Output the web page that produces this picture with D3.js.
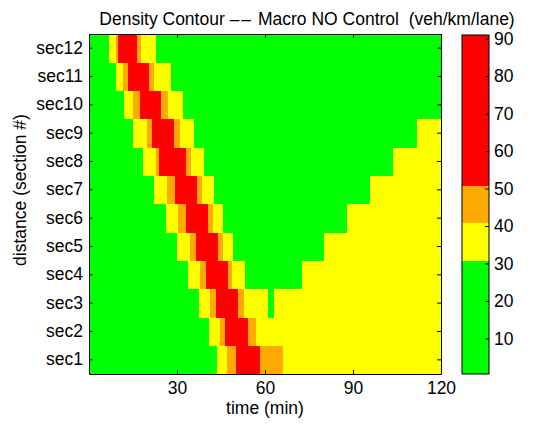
<!DOCTYPE html>
<html>
<head>
<meta charset="utf-8">
<script src="https://cdn.jsdelivr.net/npm/d3@7"></script>
<style>
  html, body { margin: 0; padding: 0; background: #ffffff; }
  svg { display: block; }
  text { font-family: "Liberation Sans", Arial, Helvetica, sans-serif; fill: #000; }
</style>
</head>
<body>
<svg id="chart" width="540" height="425"></svg>
<script>
// Road sections, bottom (sec1) to top (sec12)
const sections = ["sec1", "sec2", "sec3", "sec4", "sec5", "sec6",
                  "sec7", "sec8", "sec9", "sec10", "sec11", "sec12"];

// Time boundaries (min) of constant-density stretches, one list per section
const timeBreaks = [
  [0, 43.7, 47.2, 50.1, 58.3, 66.0, 120],
  [0, 41.0, 44.7, 46.4, 54.3, 56.9, 120],
  [0, 37.5, 41.3, 43.2, 50.9, 52.8, 60.9, 63.2, 120],
  [0, 33.9, 37.8, 39.9, 47.5, 48.9, 53.2, 72.5, 120],
  [0, 29.9, 34.4, 36.4, 44.1, 45.6, 49.0, 80.1, 120],
  [0, 26.3, 30.4, 33.0, 40.7, 42.2, 45.8, 88.1, 120],
  [0, 22.2, 26.7, 29.3, 36.9, 38.5, 42.6, 95.9, 120],
  [0, 18.5, 22.8, 23.9, 33.0, 34.8, 39.3, 103.7, 120],
  [0, 15.1, 19.7, 21.4, 29.1, 31.0, 35.8, 111.8, 120],
  [0, 12.0, 15.1, 17.4, 24.7, 26.9, 31.9, 120],
  [0, 9.3, 11.7, 13.4, 20.5, 22.3, 28.0, 120],
  [0, 6.8, 9.1, 10.0, 16.3, 17.7, 22.8, 120]
];

// Density (veh/km/lane) within each stretch above
const densityLevels = [
  [15, 35, 45, 70, 45, 35],
  [15, 35, 45, 70, 45, 35],
  [15, 35, 45, 70, 45, 35, 15, 35],
  [15, 35, 45, 70, 45, 35, 15, 35],
  [15, 35, 45, 70, 45, 35, 15, 35],
  [15, 35, 45, 70, 45, 35, 15, 35],
  [15, 35, 45, 70, 45, 35, 15, 35],
  [15, 35, 45, 70, 45, 35, 15, 35],
  [15, 35, 45, 70, 45, 35, 15, 35],
  [15, 35, 45, 70, 45, 35, 15],
  [15, 35, 45, 70, 45, 35, 15],
  [15, 35, 45, 70, 45, 35, 15]
];

// Colour map: limits, class boundaries and colours
const colorLimits = [0.5, 91];
const colorBreaks = [30.7, 40.8, 50.8];
const colorValues = ["#00ff00", "#ffff00", "#ffaa00", "#ff0000"];

const timeTicks = [30, 60, 90, 120];
const colorTicks = [10, 20, 30, 40, 50, 60, 70, 80, 90];

const titleParts = ["Density Contour ", "\u2013\u2013", " Macro NO Control  (veh/km/lane)"];
const xLabel = "time (min)";
const yLabel = "distance (section #)";

// ---- layout ----
const plot = { left: 89, right: 441, top: 34, bottom: 374 };
const bar = { left: 462, right: 489, top: 35, bottom: 374 };
const fontSize = 17.5;

const svg = d3.select("#chart");

const x = d3.scaleLinear().domain([0, 120]).range([plot.left, plot.right]);
const y = d3.scaleBand().domain(sections.slice().reverse()).range([plot.top, plot.bottom]).padding(0);
const color = d3.scaleThreshold().domain(colorBreaks).range(colorValues);

// ---- density cells ----
const cells = [];
sections.forEach((s, i) => {
  const b = timeBreaks[i];
  densityLevels[i].forEach((v, j) => {
    cells.push({ section: s, t0: b[j], t1: b[j + 1], value: v });
  });
});

svg.append("g")
  .selectAll("rect")
  .data(cells)
  .join("rect")
  .attr("x", d => x(d.t0))
  .attr("y", d => y(d.section))
  .attr("width", d => x(d.t1) - x(d.t0) + 0.4)
  .attr("height", y.bandwidth() + 0.4)
  .attr("fill", d => color(d.value))
  .attr("shape-rendering", "crispEdges");

// ---- axes (ticks pointing inward, box all round) ----
function styleAxis(g) {
  g.selectAll(".domain").attr("stroke", "#000").attr("stroke-width", 1);
  g.selectAll(".tick line").attr("stroke", "#000");
  g.selectAll("text")
    .attr("font-size", fontSize)
    .attr("font-family", "Liberation Sans, Arial, Helvetica, sans-serif")
    .attr("fill", "#000");
}

svg.append("g")
  .attr("transform", `translate(0,${plot.bottom})`)
  .call(d3.axisBottom(x).tickValues(timeTicks).tickSizeInner(-4).tickSizeOuter(0).tickPadding(8))
  .call(styleAxis);

svg.append("g")
  .attr("transform", `translate(0,${plot.top})`)
  .call(d3.axisTop(x).tickValues(timeTicks).tickSizeInner(-4).tickSizeOuter(0).tickFormat(""))
  .call(styleAxis);

svg.append("g")
  .attr("transform", `translate(${plot.left},0)`)
  .call(d3.axisLeft(y).tickSizeInner(-4).tickSizeOuter(0).tickPadding(6))
  .call(styleAxis);

svg.append("g")
  .attr("transform", `translate(${plot.right},0)`)
  .call(d3.axisRight(y).tickSizeInner(-4).tickSizeOuter(0).tickFormat(""))
  .call(styleAxis);

// ---- colour bar ----
const cy = d3.scaleLinear().domain(colorLimits).range([bar.bottom, bar.top]);
const bandEdges = [colorLimits[0], ...colorBreaks, colorLimits[1]];
svg.append("g")
  .selectAll("rect")
  .data(colorValues)
  .join("rect")
  .attr("x", bar.left)
  .attr("width", bar.right - bar.left)
  .attr("y", (c, i) => cy(bandEdges[i + 1]))
  .attr("height", (c, i) => cy(bandEdges[i]) - cy(bandEdges[i + 1]))
  .attr("fill", c => c)
  .attr("shape-rendering", "crispEdges");

svg.append("g")
  .attr("transform", `translate(${bar.right},0)`)
  .call(d3.axisRight(cy).tickValues(colorTicks).tickSizeInner(-4).tickSizeOuter(0).tickPadding(5))
  .call(styleAxis)
  .call(g => g.select(".domain").remove());

svg.append("rect")
  .attr("x", bar.left).attr("y", bar.top)
  .attr("width", bar.right - bar.left).attr("height", bar.bottom - bar.top)
  .attr("fill", "none").attr("stroke", "#000").attr("stroke-width", 1);

// ---- titles ----
const title = svg.append("text")
  .attr("x", 307).attr("y", 25)
  .attr("text-anchor", "middle")
  .attr("font-size", fontSize)
  .style("white-space", "pre");
title.append("tspan").text(titleParts[0]);
title.append("tspan").attr("letter-spacing", 2).text(titleParts[1]);
title.append("tspan").text(titleParts[2]);

svg.append("text")
  .attr("x", (plot.left + plot.right) / 2).attr("y", 414)
  .attr("text-anchor", "middle")
  .attr("font-size", fontSize)
  .text(xLabel);

svg.append("text")
  .attr("transform", `translate(26,${(plot.top + plot.bottom) / 2 - 14}) rotate(-90)`)
  .attr("text-anchor", "middle")
  .attr("font-size", fontSize)
  .text(yLabel);
</script>
</body>
</html>
